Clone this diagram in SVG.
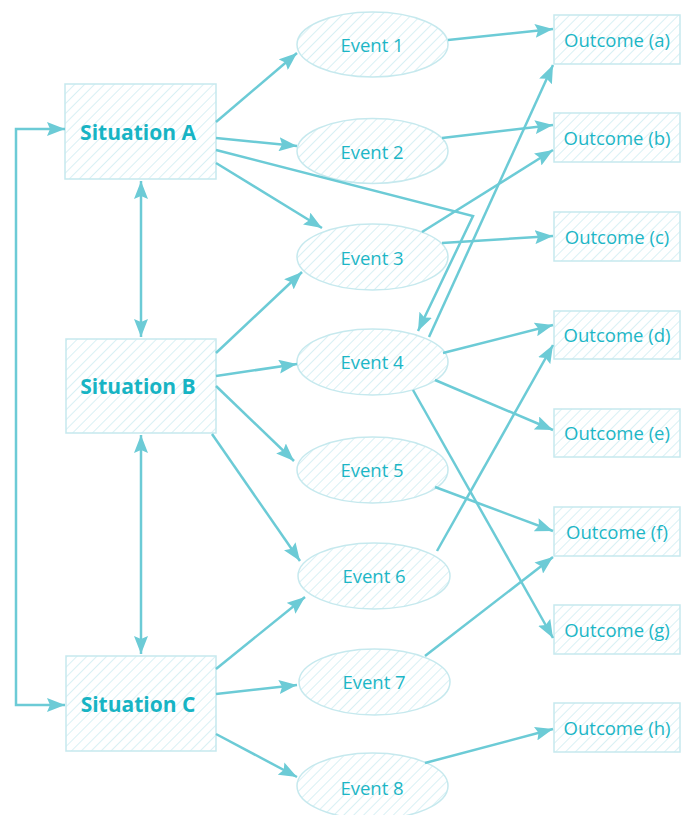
<svg xmlns="http://www.w3.org/2000/svg" width="686" height="815" viewBox="0 0 686 815">
<defs>
<pattern id="hatch" patternUnits="userSpaceOnUse" width="7" height="7" patternTransform="rotate(45)">
<rect width="7" height="7" fill="#ffffff"/>
<line x1="0" y1="0" x2="0" y2="7" stroke="#d3eef2" stroke-width="1.7"/>
</pattern>
<marker id="arr" markerUnits="userSpaceOnUse" markerWidth="20" markerHeight="14" refX="18" refY="7" orient="auto">
<path d="M0,0 L18,7 L0,14 L3,7 Z" fill="#6ccbd6"/>
</marker>
<marker id="arrs" markerUnits="userSpaceOnUse" markerWidth="20" markerHeight="14" refX="18" refY="7" orient="auto-start-reverse">
<path d="M0,0 L18,7 L0,14 L3,7 Z" fill="#6ccbd6"/>
</marker>
</defs>
<style>
.box{fill:url(#hatch);stroke:#c6e9ee;stroke-width:1.5}
.ell{fill:url(#hatch);stroke:#c6e9ee;stroke-width:1.5}
.sit{font-family:"Open Sans","Noto Sans",sans-serif;font-weight:700;font-size:21px;fill:#17b4c4;text-anchor:middle}
.lab{font-family:"Open Sans","Noto Sans",sans-serif;font-weight:400;font-size:18.5px;fill:#1cb6c6;text-anchor:middle}
.c line,.c polyline{stroke:#6ccbd6;stroke-width:2.5;fill:none;marker-end:url(#arr)}
.c .bi{marker-start:url(#arrs)}
</style>
<rect width="686" height="815" fill="#ffffff"/>
<g id="situationA"><rect class="box" x="65" y="84" width="151" height="95"/><text class="sit" x="138" y="140">Situation A</text></g>
<g id="situationB"><rect class="box" x="66" y="339" width="150" height="94"/><text class="sit" x="138" y="394">Situation B</text></g>
<g id="situationC"><rect class="box" x="66" y="656" width="150" height="95"/><text class="sit" x="138" y="712">Situation C</text></g>
<g id="event1"><ellipse class="ell" cx="372.5" cy="44.5" rx="75.5" ry="32.5"/><text class="lab" x="372" y="52">Event 1</text></g>
<g id="event2"><ellipse class="ell" cx="372.5" cy="151" rx="75.5" ry="32.5"/><text class="lab" x="372" y="159">Event 2</text></g>
<g id="event3"><ellipse class="ell" cx="372.5" cy="257" rx="75.5" ry="33"/><text class="lab" x="372" y="265">Event 3</text></g>
<g id="event4"><ellipse class="ell" cx="372.5" cy="362" rx="75.5" ry="33"/><text class="lab" x="372" y="369">Event 4</text></g>
<g id="event5"><ellipse class="ell" cx="372.5" cy="470" rx="75.5" ry="33"/><text class="lab" x="372" y="477">Event 5</text></g>
<g id="event6"><ellipse class="ell" cx="374" cy="576" rx="76" ry="33"/><text class="lab" x="374" y="583">Event 6</text></g>
<g id="event7"><ellipse class="ell" cx="374.5" cy="682" rx="75.5" ry="33"/><text class="lab" x="374" y="689">Event 7</text></g>
<g id="event8"><ellipse class="ell" cx="372.5" cy="786" rx="75.5" ry="33"/><text class="lab" x="372" y="795">Event 8</text></g>
<g id="outcomeA"><rect class="box" x="554" y="15" width="126" height="49"/><text class="lab" x="617" y="47">Outcome (a)</text></g>
<g id="outcomeB"><rect class="box" x="554" y="113" width="126" height="49"/><text class="lab" x="617" y="145">Outcome (b)</text></g>
<g id="outcomeC"><rect class="box" x="554" y="212" width="126" height="49"/><text class="lab" x="617" y="244">Outcome (c)</text></g>
<g id="outcomeD"><rect class="box" x="554" y="311" width="126" height="48"/><text class="lab" x="617" y="342">Outcome (d)</text></g>
<g id="outcomeE"><rect class="box" x="554" y="409" width="126" height="48"/><text class="lab" x="617" y="440">Outcome (e)</text></g>
<g id="outcomeF"><rect class="box" x="554" y="507" width="126" height="49"/><text class="lab" x="617" y="539">Outcome (f)</text></g>
<g id="outcomeG"><rect class="box" x="554" y="605" width="126" height="49"/><text class="lab" x="617" y="637">Outcome (g)</text></g>
<g id="outcomeH"><rect class="box" x="554" y="703" width="126" height="49"/><text class="lab" x="617" y="735">Outcome (h)</text></g>
<g id="connectors" class="c">
<line x1="216" y1="122" x2="297" y2="53"/>
<line x1="216" y1="138" x2="297" y2="146"/>
<line x1="216" y1="163" x2="322" y2="228"/>
<polyline points="216,150 473,216 418,331"/>
<line x1="429" y1="337" x2="553" y2="65"/>
<line x1="422" y1="232" x2="553" y2="150"/>
<line x1="448" y1="40" x2="553" y2="29"/>
<line x1="442" y1="138" x2="553" y2="125"/>
<line x1="442" y1="243" x2="553" y2="236"/>
<line x1="443" y1="353" x2="553" y2="325"/>
<line x1="435" y1="380" x2="553" y2="430"/>
<line x1="413" y1="390" x2="553" y2="638"/>
<line x1="435" y1="487" x2="553" y2="531"/>
<line x1="437" y1="551" x2="553" y2="345"/>
<line x1="425" y1="656" x2="553" y2="557"/>
<line x1="425" y1="763" x2="553" y2="729"/>
<line x1="216" y1="353" x2="302" y2="272"/>
<line x1="216" y1="376" x2="297" y2="364"/>
<line x1="216" y1="386" x2="294" y2="461"/>
<line x1="212" y1="434" x2="300" y2="561"/>
<line x1="216" y1="669" x2="305" y2="597"/>
<line x1="216" y1="694" x2="297" y2="685"/>
<line x1="216" y1="734" x2="297" y2="777"/>
<line class="bi" x1="141" y1="181" x2="141" y2="337"/>
<line class="bi" x1="141" y1="435" x2="141" y2="654"/>
<polyline class="bi" points="65,129 16,129 16,705 65,705"/>
</g>
</svg>
